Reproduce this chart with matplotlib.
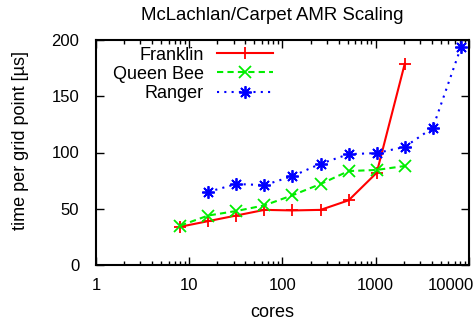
import matplotlib
matplotlib.use("Agg")
import matplotlib.pyplot as plt
from matplotlib.ticker import LogLocator, NullFormatter, FixedLocator
from matplotlib.transforms import ScaledTranslation

plt.rcParams['font.family'] = ['Liberation Sans', 'DejaVu Sans']

franklin_cores = [8, 16, 32, 64, 128, 256, 512, 1024, 2048]
franklin_time = [34, 39, 44, 49, 48.5, 49, 57.5, 82, 179]
queenbee_cores = [8, 16, 32, 64, 128, 256, 512, 1024, 2048]
queenbee_time = [35, 44, 48, 53, 62, 72, 83.5, 84.5, 88]
ranger_cores = [16, 32, 64, 128, 256, 512, 1024, 2048, 4096, 8192]
ranger_time = [65, 72, 71, 79, 90, 98.5, 99.5, 105, 122, 193.5]

xticks = [1, 10, 100, 1000, 10000]
xtick_labels = ["1", "10", "100", "1000", "10000"]
yticks = [0, 50, 100, 150, 200]

W, H = 477, 323
fig = plt.figure(figsize=(W/100, H/100), dpi=100)
ax = fig.add_axes([96/W, 58/H, 373/W, 225/H])

fs = 12
ax.plot(franklin_cores, franklin_time, color='#ff0000', lw=1.5, ls='-',
        marker='+', ms=9, mew=1.3, label='Franklin')
ax.plot(queenbee_cores, queenbee_time, color='#00ee00', lw=1.5, ls=(0, (3, 2)),
        marker='x', ms=8, mew=1.3, label='Queen Bee')
ax.plot(ranger_cores, ranger_time, color='#0000ff', lw=1.5, ls=(0, (1, 2.5)),
        marker=(8, 2, 0), ms=9, mew=1.3, label='Ranger')

ax.set_xscale('log')
ax.set_xlim(1, 10000)
ax.set_ylim(0, 200)
ax.xaxis.set_major_locator(FixedLocator(xticks))
ax.set_xticklabels(xtick_labels)
ax.xaxis.set_minor_locator(LogLocator(base=10, subs=range(2, 10)))
ax.xaxis.set_minor_formatter(NullFormatter())
ax.set_yticks(yticks)

ax.tick_params(which='both', direction='in', top=True, right=True, labelsize=fs, width=1)
ax.tick_params(which='major', length=6)
ax.tick_params(axis='x', which='major', pad=9)
ax.tick_params(axis='y', which='major', pad=12)
ax.tick_params(which='minor', length=3)
for s in ax.spines.values():
    s.set_linewidth(1.5)

# last x tick label shifted left to stay inside the canvas
last = ax.get_xticklabels()[-1]
last.set_horizontalalignment('right')
last.set_transform(last.get_transform() + ScaledTranslation(5/100, 0, fig.dpi_scale_trans))

fig.text(272/W, 1 - 20/H, 'McLachlan/Carpet AMR Scaling', fontsize=13.4,
         ha='center', va='baseline')
fig.text(272/W, 1 - 317/H, 'cores', fontsize=13, ha='center', va='baseline')
fig.text(21/W, 1 - 141/H, 'time per grid point [µs]', fontsize=13, rotation=90,
         ha='center', va='center')

leg = ax.legend(loc='upper left', markerfirst=False, frameon=False, fontsize=13,
                handlelength=3.1, handletextpad=0.7, labelspacing=0.12,
                borderpad=0, borderaxespad=0,
                bbox_to_anchor=((113-96)/373, (265-47)/225))
for t in leg.get_texts():
    t.set_ha('right')
leg._legend_box.align = 'right'
for vp in leg._legend_handle_box.get_children():
    for c in vp.get_children():
        c.align = 'right'

fig.savefig('out.png', dpi=100)
